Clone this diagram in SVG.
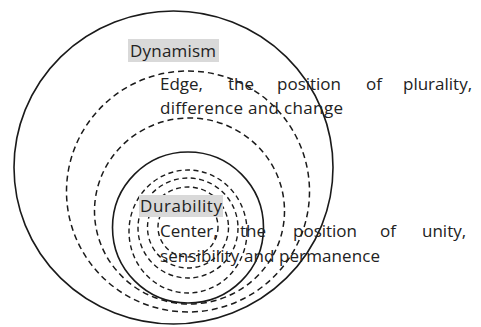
<svg xmlns="http://www.w3.org/2000/svg" width="481" height="327" viewBox="0 0 481 327">
<style>
.solid{fill:none;stroke:#1a1a1a;stroke-width:1.6}
.dash{fill:none;stroke:#1a1a1a;stroke-width:1.5;stroke-dasharray:6 4}
.dash2{fill:none;stroke:#1a1a1a;stroke-width:1.4;stroke-dasharray:5 3.5}
.lbl{fill:#d9d9d9}
.t{font-family:"Open Sans","Liberation Sans",sans-serif;font-size:17px;fill:#222}
</style>
<rect width="481" height="327" fill="#fff"/>
<g id="rings">
<ellipse class="solid" cx="173.5" cy="167.5" rx="159.5" ry="156.5"/>
<ellipse class="dash" cx="188" cy="191.5" rx="121.5" ry="120.5"/>
<ellipse class="dash" cx="189.5" cy="211" rx="95" ry="93"/>
<circle class="solid" cx="188" cy="227.5" r="75.5"/>
<ellipse class="dash2" cx="188" cy="231.5" rx="59" ry="61.5"/>
<circle class="dash2" cx="188" cy="228" r="50"/>
<circle class="dash2" cx="188" cy="227.5" r="40.5"/>
<circle class="dash2" cx="188" cy="227" r="30"/>
</g>
<g id="dynamism">
<rect class="lbl" x="128" y="39" width="91" height="23"/>
<text class="t" x="130" y="57" textLength="86">Dynamism</text>
</g>
<g id="edge-text">
<text class="t" y="90"><tspan x="160">Edge,</tspan><tspan x="228">the</tspan><tspan x="277">position</tspan><tspan x="366">of</tspan><tspan x="403">plurality,</tspan></text>
<text class="t" x="160" y="114" textLength="183">difference and change</text>
</g>
<g id="durability">
<rect class="lbl" x="139" y="195" width="84" height="22"/>
<text class="t" x="140" y="212" textLength="82">Durability</text>
</g>
<g id="center-text">
<text class="t" y="237"><tspan x="160">Center,</tspan><tspan x="240">the</tspan><tspan x="293">position</tspan><tspan x="380">of</tspan><tspan x="422">unity,</tspan></text>
<text class="t" x="160" y="262" textLength="220">sensibility and permanence</text>
</g>
</svg>
